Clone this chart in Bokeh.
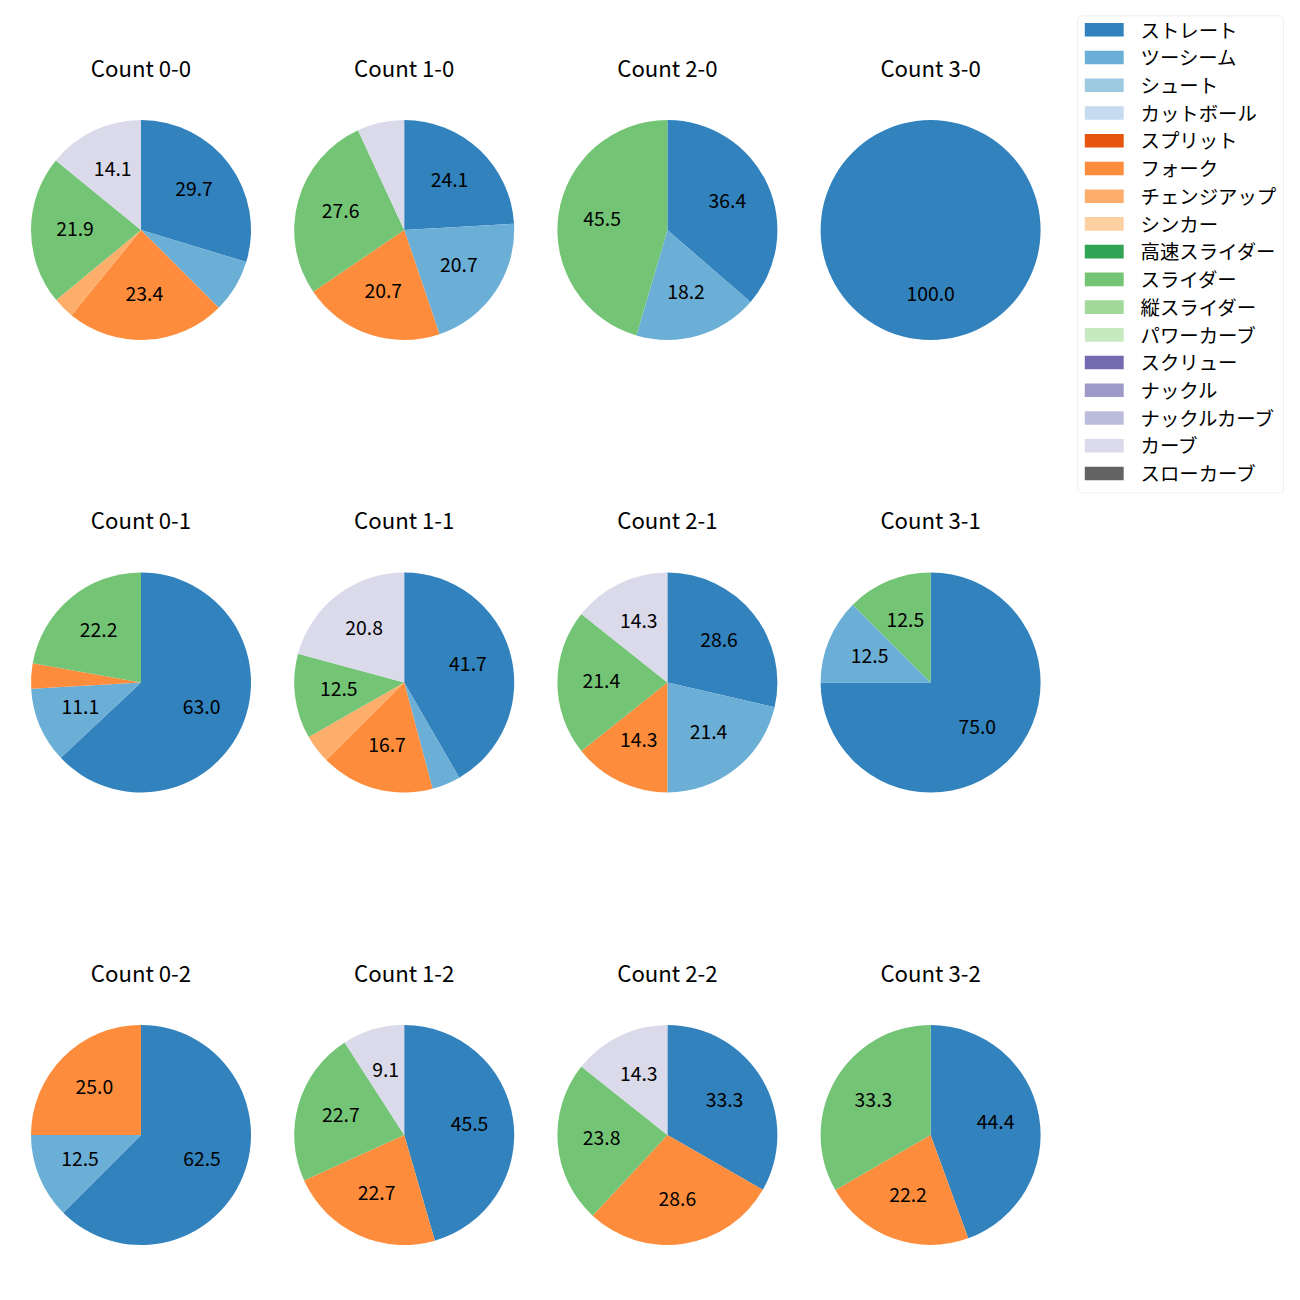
import math
from bokeh.plotting import figure
from bokeh.models import Range1d, BoxAnnotation, ColumnDataSource
from bokeh.embed import file_html
from bokeh.resources import INLINE
from bokeh.core.properties import value

# ---- data ----
pitch_types = ["ストレート", "ツーシーム", "シュート", "カットボール", "スプリット", "フォーク",
               "チェンジアップ", "シンカー", "高速スライダー", "スライダー", "縦スライダー",
               "パワーカーブ", "スクリュー", "ナックル", "ナックルカーブ", "カーブ", "スローカーブ"]
pitch_colors = ["#3182bd", "#6baed6", "#9ecae1", "#c6dbef", "#e6550d", "#fd8d3c",
                "#fdae6b", "#fdd0a2", "#31a354", "#74c476", "#a1d99b", "#c7e9c0",
                "#756bb1", "#9e9ac8", "#bcbddc", "#dadaeb", "#636363"]

count_titles = ["Count 0-0", "Count 1-0", "Count 2-0", "Count 3-0",
                "Count 0-1", "Count 1-1", "Count 2-1", "Count 3-1",
                "Count 0-2", "Count 1-2", "Count 2-2", "Count 3-2"]

# percentages per count (pitch name -> %)
pct_0_0 = {"ストレート": 29.7, "ツーシーム": 7.8, "フォーク": 23.4, "チェンジアップ": 3.1, "スライダー": 21.9, "カーブ": 14.1}
pct_1_0 = {"ストレート": 24.1, "ツーシーム": 20.7, "フォーク": 20.7, "スライダー": 27.6, "カーブ": 6.9}
pct_2_0 = {"ストレート": 36.4, "ツーシーム": 18.2, "スライダー": 45.5}
pct_3_0 = {"ストレート": 100.0}
pct_0_1 = {"ストレート": 63.0, "ツーシーム": 11.1, "フォーク": 3.7, "スライダー": 22.2}
pct_1_1 = {"ストレート": 41.7, "ツーシーム": 4.2, "フォーク": 16.7, "チェンジアップ": 4.2, "スライダー": 12.5, "カーブ": 20.8}
pct_2_1 = {"ストレート": 28.6, "ツーシーム": 21.4, "フォーク": 14.3, "スライダー": 21.4, "カーブ": 14.3}
pct_3_1 = {"ストレート": 75.0, "ツーシーム": 12.5, "スライダー": 12.5}
pct_0_2 = {"ストレート": 62.5, "ツーシーム": 12.5, "フォーク": 25.0}
pct_1_2 = {"ストレート": 45.5, "フォーク": 22.7, "スライダー": 22.7, "カーブ": 9.1}
pct_2_2 = {"ストレート": 33.3, "フォーク": 28.6, "スライダー": 23.8, "カーブ": 14.3}
pct_3_2 = {"ストレート": 44.4, "フォーク": 22.2, "スライダー": 33.3}

all_counts = [pct_0_0, pct_1_0, pct_2_0, pct_3_0,
              pct_0_1, pct_1_1, pct_2_1, pct_3_1,
              pct_0_2, pct_1_2, pct_2_2, pct_3_2]

# ---- layout (pixel-like coordinates, y up = 1300 - screen y) ----
W = 1300
FONT = "Noto Sans CJK JP"
X0, DX = 140.5, 263.2
Y0, DY = 229.5, 452.5
R = 110.0
LABEL_DIST = 0.6 * R
LABEL_MIN = 8.0

p = figure(width=1284, height=1284, output_backend="svg", toolbar_location=None,
           x_range=Range1d(0, 1284), y_range=Range1d(16, 1300),
           x_axis_type=None, y_axis_type=None, min_border=0)
p.grid.visible = False
p.outline_line_color = None
p.background_fill_color = "white"
p.border_fill_color = "white"

wx, wy, ws, we, wc = [], [], [], [], []
lx, ly, lt = [], [], []
tx, ty, tt = [], [], []
for k, data in enumerate(all_counts):
    row, col = divmod(k, 4)
    cx = X0 + col * DX
    cy = W - (Y0 + row * DY)
    total = sum(data.values())
    cum = 0.0
    for name in pitch_types:
        if name not in data:
            continue
        v = data[name]
        f0 = cum / total
        cum += v
        f1 = cum / total
        # start at 12 o'clock, go clockwise
        a_start = math.pi / 2 - 2 * math.pi * f1
        a_end = math.pi / 2 - 2 * math.pi * f0
        if f1 - f0 > 0.9999:
            a_start += 1e-4
        wx.append(cx); wy.append(cy); ws.append(a_start); we.append(a_end)
        wc.append(pitch_colors[pitch_types.index(name)])
        if v > LABEL_MIN:
            mid = (a_start + a_end) / 2
            lx.append(cx + LABEL_DIST * math.cos(mid))
            ly.append(cy + LABEL_DIST * math.sin(mid))
            lt.append("%.1f" % v)
    tx.append(cx)
    ty.append(W - (66 + row * DY))
    tt.append(count_titles[k])

p.wedge(x="x", y="y", radius=R, start_angle="s", end_angle="e", color="c",
        line_color=None,
        source=ColumnDataSource(dict(x=wx, y=wy, s=ws, e=we, c=wc)))

p.text(x="x", y="y", text="t", source=ColumnDataSource(dict(x=lx, y=ly, t=lt)),
       text_font=value(FONT), text_font_size="19.4px", text_align="center",
       text_baseline="middle", y_offset=-2.2, text_color="black")

p.text(x="x", y="y", text="t", source=ColumnDataSource(dict(x=tx, y=ty, t=tt)),
       text_font=value(FONT), text_font_size="22.2px", text_align="center",
       text_baseline="middle", text_color="black")

# ---- legend ----
leg_box = BoxAnnotation(left=1077, right=1283, top=W - 15.3, bottom=W - 492.3,
                        fill_color="white", fill_alpha=0.8, line_color="#cccccc",
                        line_width=1, border_radius=4, level="underlay")
p.add_layout(leg_box)

ry = [W - (29.3 + i * 27.73) for i in range(len(pitch_types))]
p.quad(left=1084.3, right=1123.2, top=[y + 6.8 for y in ry], bottom=[y - 6.8 for y in ry],
       color=pitch_colors, line_color=None)
p.text(x=[1140] * len(pitch_types), y=ry, text=pitch_types,
       text_font=value(FONT), text_font_size="19.4px", text_align="left",
       text_baseline="middle", y_offset=-0.8, text_color="black")

open("out.html", "w").write(file_html(p, INLINE))
